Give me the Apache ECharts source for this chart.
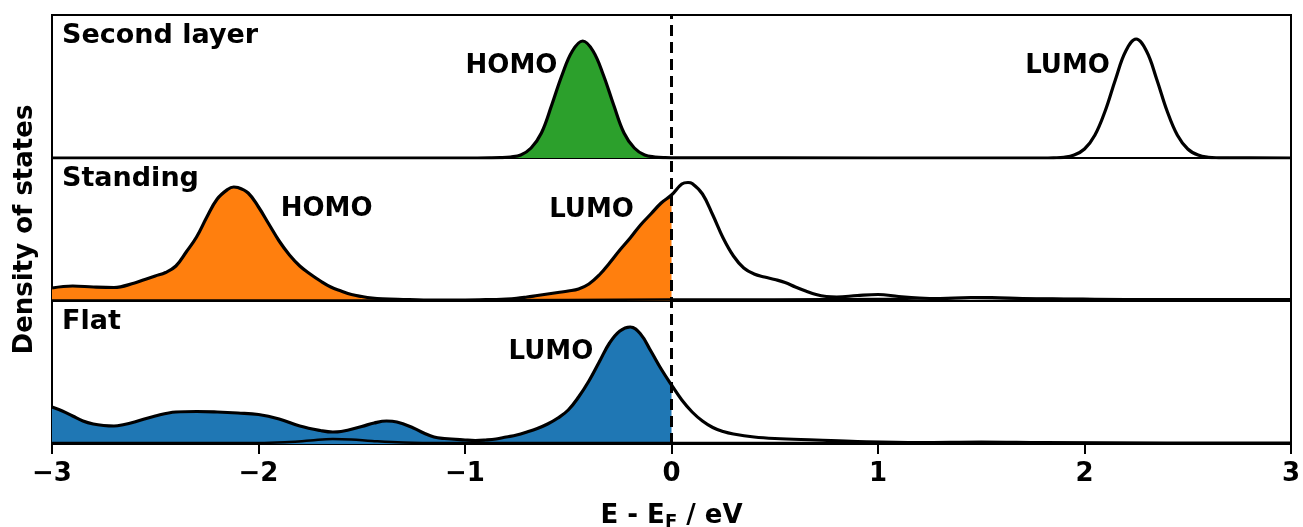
<!DOCTYPE html>
<html>
<head>
<meta charset="utf-8">
<script src="https://cdn.jsdelivr.net/npm/echarts@6/dist/echarts.min.js"></script>
<style>
  html, body { margin: 0; padding: 0; background: #fff; }
  #dos { width: 1303px; height: 527px; }
</style>
</head>
<body>
<div id="dos"></div>
<script>
// energy axis E - E_F (eV), shared by all panels
var xMin = -3, xMax = 3, xStep = 1;

// panel 1: second layer (arbitrary DOS units)
var secondX = [-3, -1, -0.88, -0.83, -0.78, -0.73, -0.68, -0.63, -0.58, -0.53,
  -0.48, -0.43, -0.38, -0.33, -0.28, -0.23, -0.18, -0.13, -0.08, -0.03,
  0, 1, 1.8, 1.85, 1.9, 1.95, 2.0, 2.05, 2.1, 2.15,
  2.2, 2.25, 2.3, 2.35, 2.4, 2.45, 2.5, 2.55, 2.6, 2.65, 2.7, 3];
var secondY = [0, 0, 0.1, 0.3, 1, 3, 10, 25, 53, 83,
  107, 117, 107, 83, 53, 25, 10, 3, 1, 0.3,
  0.2, 0, 0, 0.2, 0.7, 2.9, 9, 22.7, 47, 78.6,
  107, 119, 107, 78.6, 47, 22.7, 9, 2.9, 0.7, 0.2, 0.1, 0];

// panel 2: standing
var standX = [-3, -2.9, -2.8, -2.7, -2.6, -2.55, -2.5, -2.45, -2.4, -2.35,
  -2.3, -2.25, -2.2, -2.15, -2.12, -2.1, -2.05, -2.0, -1.95, -1.9,
  -1.85, -1.8, -1.75, -1.7, -1.65, -1.6, -1.55, -1.5, -1.45, -1.4,
  -1.3, -1.2, -1.0, -0.9, -0.8, -0.75, -0.7, -0.65, -0.6, -0.55,
  -0.5, -0.45, -0.4, -0.35, -0.3, -0.25, -0.2, -0.15, -0.1, -0.05,
  0, 0.05, 0.08, 0.1, 0.15, 0.2, 0.25, 0.3, 0.35, 0.4,
  0.45, 0.5, 0.55, 0.6, 0.65, 0.7, 0.75, 0.8, 0.9, 1.0,
  1.1, 1.2, 1.3, 1.45, 1.55, 1.7, 1.9, 2.2, 2.6, 3];
var standY = [13, 15, 14, 13.5, 18, 21.5, 25, 28.5, 35, 49,
  64, 84, 102, 111.5, 114, 113.5, 108, 94, 77, 60,
  46, 35, 27, 20, 14, 10, 6.5, 4.5, 3, 2.2,
  1.5, 1, 1, 1.3, 2, 2.7, 4, 5.5, 7, 8.5,
  10, 12, 17, 26, 38, 51, 63, 76, 87, 98,
  106, 117, 118.5, 117.5, 107, 86, 63, 45, 33, 27,
  24, 21.5, 18.5, 14, 10, 6.5, 4.5, 4, 5.5, 6.5,
  4.5, 3, 2.5, 3.5, 3.5, 2.5, 2, 1.5, 1.5, 1.5];
var standSubX = [-3, -1.5, -0.5, 0, 0.5, 1.0, 1.45, 1.8, 2.3, 3];
var standSubY = [0.5, 0.5, 1, 1.5, 1.5, 2, 3, 2, 1.5, 1];

// panel 3: flat
var flatX = [-3, -2.95, -2.9, -2.85, -2.8, -2.75, -2.7, -2.65, -2.6, -2.5,
  -2.4, -2.3, -2.2, -2.1, -2.0, -1.9, -1.8, -1.7, -1.64, -1.6,
  -1.5, -1.44, -1.38, -1.33, -1.25, -1.2, -1.15, -1.1, -1.0, -0.95,
  -0.9, -0.85, -0.8, -0.75, -0.7, -0.65, -0.6, -0.55, -0.5, -0.45,
  -0.4, -0.35, -0.3, -0.25, -0.2, -0.15, -0.1, -0.05, 0, 0.05,
  0.1, 0.15, 0.2, 0.25, 0.3, 0.4, 0.5, 0.7, 0.9, 1.2,
  1.5, 1.8, 2.4, 3];
var flatY = [37, 33, 28, 23, 20, 18.5, 18, 19.5, 22, 28,
  32, 32.5, 32, 31, 29.5, 25, 18, 13.5, 12, 12.5,
  17.5, 21, 23, 22, 16, 11, 7, 5.5, 4, 3.5,
  4, 5, 7, 9, 12, 15.5, 20, 26, 34, 47,
  63, 82, 101, 113, 117, 110, 93, 75, 59, 44,
  32, 23, 16.5, 12.5, 10, 7, 5.5, 4, 2.5, 1.5,
  2, 1.5, 1, 1];
var flatSubX = [-3, -2.0, -1.85, -1.75, -1.64, -1.55, -1.45, -1.3, -1.1, 0, 3];
var flatSubY = [1, 1, 2, 3.5, 5, 4.5, 3, 1.5, 1, 1, 0.5];

var panelNames = ['Second layer', 'Standing', 'Flat'];
var panelColors = ['#2ca02c', '#ff7f0e', '#1f77b4'];
// annotation texts and their anchors in data units, per panel
var noteText = [['HOMO', 'LUMO'], ['HOMO', 'LUMO'], ['LUMO']];
var noteX = [[-0.775, 1.918], [-1.67, -0.387], [-0.584]];
var noteY = [[92, 92], [92, 91], [91.5]];

var yTop = 143;
var font = 'DejaVu Sans';
var fs = 26;

function pairs(xs, ys) {
  var out = [];
  for (var i = 0; i < xs.length; i++) out.push([xs[i], ys[i]]);
  return out;
}
// states below the Fermi level get filled
function occupied(pts) {
  return pts.filter(function (p) { return p[0] <= 0; });
}
function minusSign(v) { return String(v).replace('-', '\u2212'); }

function buildOption() {
  var mainData = [pairs(secondX, secondY), pairs(standX, standY), pairs(flatX, flatY)];
  var subData = [null, pairs(standSubX, standSubY), pairs(flatSubX, flatSubY)];
  var plotLeft = 52, plotWidth = 1239, panelTop = 15, panelH = 143;

  var grids = [], xAxes = [], yAxes = [], series = [], graphics = [];
  for (var i = 0; i < 3; i++) {
    var panelY = panelTop + i * panelH;
    var bottom = i === 2;
    grids.push({
      left: plotLeft, top: panelY, width: plotWidth, height: panelH,
      outerBoundsMode: 'none',
      show: true, borderColor: '#000', borderWidth: 2
    });
    var xa = {
      gridIndex: i, type: 'value', min: xMin, max: xMax, interval: xStep,
      axisLine: { show: false },
      splitLine: { show: false },
      axisTick: { show: bottom, length: 10, lineStyle: { color: '#000', width: 2 } },
      axisLabel: {
        show: bottom, color: '#000', fontFamily: font, fontWeight: 'bold', fontSize: fs, margin: 17,
        formatter: minusSign
      }
    };
    if (bottom) {
      xa.name = 'E - E{sub|F} / eV';
      xa.nameLocation = 'middle';
      xa.nameGap = 57;
      xa.nameTextStyle = {
        color: '#000', fontFamily: font, fontWeight: 'bold', fontSize: fs,
        rich: { sub: { fontFamily: font, fontWeight: 'bold', fontSize: 18, padding: [12, 0, 0, 0] } }
      };
    }
    xAxes.push(xa);
    yAxes.push({ gridIndex: i, type: 'value', min: 0, max: yTop, show: false });

    var notes = [];
    for (var k = 0; k < noteText[i].length; k++) {
      notes.push({ name: noteText[i][k], coord: [noteX[i][k], noteY[i][k]] });
    }

    series.push({
      type: 'line', xAxisIndex: i, yAxisIndex: i, smooth: 0.4,
      data: occupied(mainData[i]), showSymbol: false,
      lineStyle: { width: 0 }, areaStyle: { color: panelColors[i], opacity: 1 }, z: 2
    });
    if (subData[i]) {
      series.push({
        type: 'line', xAxisIndex: i, yAxisIndex: i, smooth: 0.4,
        data: subData[i], showSymbol: false,
        lineStyle: { color: '#000', width: 2.5 }, z: 3
      });
    }
    series.push({
      type: 'line', xAxisIndex: i, yAxisIndex: i, smooth: 0.4,
      data: mainData[i], showSymbol: false,
      lineStyle: { color: '#000', width: 3.2 }, z: 4,
      markPoint: {
        symbol: 'circle', symbolSize: 2,
        itemStyle: { color: 'rgba(0,0,0,0)' },
        label: {
          show: true, position: 'inside', formatter: '{b}', color: '#000',
          fontFamily: font, fontWeight: 'bold', fontSize: fs
        },
        data: notes
      }
    });

    graphics.push({
      type: 'text', left: plotLeft + 10, top: panelY + 7,
      style: { text: panelNames[i], fill: '#000', fontFamily: font, fontWeight: 'bold', fontSize: 27 }
    });
  }

  // overlay grid spanning all panels, carries the dashed Fermi level line
  grids.push({ left: plotLeft, top: panelTop, width: plotWidth, height: panelH * 3, outerBoundsMode: 'none', show: false });
  xAxes.push({ gridIndex: 3, type: 'value', min: xMin, max: xMax, show: false });
  yAxes.push({ gridIndex: 3, type: 'value', min: 0, max: 1, show: false });
  series.push({
    type: 'line', xAxisIndex: 3, yAxisIndex: 3, data: [[0, 0], [0, 1]], showSymbol: false,
    lineStyle: { color: '#000', width: 3, type: [11, 6] }, z: 6
  });

  graphics.push({
    type: 'text', x: 25, y: panelTop + panelH * 1.5, rotation: Math.PI / 2,
    style: {
      text: 'Density of states', fill: '#000', fontFamily: font, fontWeight: 'bold', fontSize: fs,
      align: 'center', verticalAlign: 'middle'
    }
  });

  return {
    animation: false,
    backgroundColor: '#fff',
    grid: grids,
    xAxis: xAxes,
    yAxis: yAxes,
    series: series,
    graphic: graphics
  };
}

var chart = echarts.init(document.getElementById('dos'));
chart.setOption(buildOption());
</script>
</body>
</html>
